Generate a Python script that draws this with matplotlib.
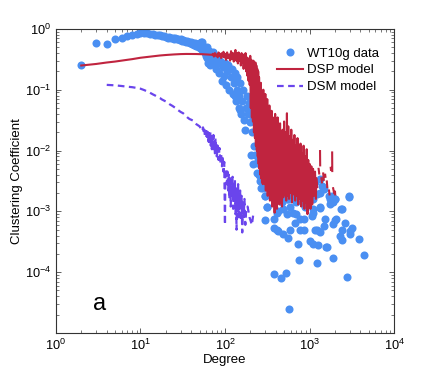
import numpy as np
import matplotlib
matplotlib.use('Agg')
import matplotlib.pyplot as plt
from matplotlib.ticker import LogLocator, NullFormatter

plt.rcParams['font.family'] = ['Liberation Sans', 'DejaVu Sans']
plt.rcParams['mathtext.default'] = 'regular'

# WT10g data (degree, clustering coefficient)
wt_deg = [2, 3, 4, 5, 6, 7, 8, 9, 10, 11, 12, 13, 14, 15, 16, 17, 18, 19, 20,
          21, 22, 23, 24, 25, 26, 27, 28, 29, 30, 31, 32, 33, 34, 35, 36, 37, 38,
          39, 40, 41, 42, 43, 44, 45, 46, 47, 48, 49, 50, 51, 52, 53, 54, 55, 56,
          57, 58, 59, 60, 61, 62, 63, 64, 65, 66, 67, 68, 69, 70,
          72, 74, 76, 78, 80, 83, 86, 88, 91, 94, 97, 100, 103, 106, 110, 113,
          117, 120, 123, 127, 130, 132, 134, 137, 140, 145, 148, 150, 152, 156,
          160, 165, 168, 173, 176, 180, 185, 190, 196, 200, 205, 208, 212, 218,
          225, 230, 237, 240, 245, 250, 256, 262, 270, 280, 290, 300, 300, 310,
          340, 375, 390, 410, 425, 470, 490, 540, 540, 560, 590, 640, 670, 700,
          735, 770, 850, 850, 930, 1060, 1100, 1100, 1230, 1230, 1260, 1330, 1330,
          1470, 1470, 1600, 1750, 1750, 1840, 1990, 1990, 2070, 2420, 2420, 2650,
          2900, 3000, 3160, 3860, 4400,
          375, 455, 520, 567, 760, 1240, 1880, 2770, 375, 425, 490, 560,
          1900, 2350, 1990, 1700, 1330, 1400, 1160, 1330, 1100, 1530, 770, 640,
          490, 540, 700, 890, 1100, 960, 850, 1160, 1330, 590, 410, 310, 300,
          280, 260, 240, 215, 237, 260, 280, 310, 375, 450, 2300, 2400, 3000,
          2900, 1900, 1000, 1570]
wt_cc = [0.256, 0.58, 0.56, 0.68, 0.72, 0.77, 0.80, 0.82, 0.84, 0.85, 0.84, 0.83,
         0.82, 0.80, 0.79, 0.78, 0.76, 0.75, 0.74, 0.72, 0.73, 0.70, 0.71, 0.69,
         0.70, 0.67, 0.68, 0.66, 0.67, 0.64, 0.66, 0.63, 0.64, 0.61, 0.63, 0.60,
         0.62, 0.58, 0.60, 0.57, 0.59, 0.55, 0.58, 0.53, 0.57, 0.52, 0.56, 0.50,
         0.58, 0.48, 0.62, 0.60, 0.45, 0.52, 0.43, 0.50, 0.40, 0.47, 0.36, 0.51,
         0.33, 0.27, 0.44, 0.30, 0.25, 0.42, 0.31, 0.37, 0.28,
         0.42, 0.30, 0.36, 0.22, 0.33, 0.27, 0.19, 0.30, 0.14, 0.24, 0.17, 0.28,
         0.12, 0.20, 0.25, 0.10, 0.16, 0.22, 0.085, 0.13, 0.19, 0.078, 0.064, 0.10,
         0.16, 0.05, 0.08, 0.047, 0.13, 0.04, 0.065, 0.10, 0.032, 0.022, 0.05,
         0.08, 0.04, 0.06, 0.03, 0.045, 0.0086, 0.02, 0.033, 0.012, 0.0086, 0.02,
         0.012, 0.0063, 0.0067, 0.004, 0.014, 0.006, 0.0024, 0.0049, 0.0035,
         0.0018, 0.00071, 0.0012, 0.0034, 0.00074, 0.0026, 0.0005, 0.001, 0.0014,
         0.0023, 0.0018, 0.00089, 0.0016, 0.0012, 0.0018, 0.00065, 0.00089,
         0.00029, 0.0005, 0.00074, 0.0015, 0.0023, 0.00085, 0.0011, 0.00029,
         0.0019, 0.0005, 0.00028, 0.0034, 0.00115, 0.0023, 0.00057, 0.00026,
         0.0016, 0.0013, 0.0018, 0.0016, 0.00071, 0.00074, 0.0011, 0.00034,
         0.00065, 0.0018, 0.00042, 0.00053, 0.00035, 0.00019,
         9.5e-5, 7.9e-5, 9.7e-5, 2.5e-5, 0.00016, 0.00014, 0.00017, 8.2e-5,
         0.00053, 0.00047, 0.00042, 0.00037,
         0.00063, 0.0011, 0.0016, 0.0018, 0.002, 0.0026, 0.003, 0.0012, 0.00095,
         0.00074, 0.00074, 0.00095, 0.0011, 0.0016, 0.0014, 0.0012, 0.0016,
         0.002, 0.0005, 0.0005, 0.00045, 0.0005, 0.00095, 0.0012, 0.0018,
         0.0024, 0.0031, 0.0043, 0.0059, 0.012, 0.007, 0.0055, 0.0038, 0.0026,
         0.0018, 0.00039, 0.0005, 0.00048, 0.0017, 0.0014, 0.00033, 0.00026]

# DSP model (NaN breaks the line between sparse high-degree points)
dsp_deg = [2, 3, 4, 5, 6, 7, 8, 10, 12, 14, 17, 20, 25, 30, 35, 40, 45, 50, 55,
           60, 65, 70, 72, 74, 76, 78, 80, 82, 84, 86, 88, 90, 92, 94, 96, 98,
           100, 103, 106, 109, 112, 115, 118, 121, 124, 127, 130, 133, 136, 139,
           142, 145, 148, 151, 154, 157, 160, 163, 166, 169, 172, 175, 178, 181,
           184, 187, 190, 193, 196, 199, 202, 205, 208, 211, 214, 217, 220, 223,
           226, 229, 232, 235, 238, 241, 244, 247, 250, 253, 256, 259, 262, 265,
           268, 271, 274, 277, 280, 284, 288, 292, 296, 300, 304, 308, 312, 316,
           320, 325, 330, 335, 340, 345, 350, 356, 362, 368, 374, 380, 386, 392,
           398, 405, 412, 419, 426, 433, 440, 448, 456, 464, 472, 480, 490, 500,
           510, 520, 530, 540, 550, 560, 572, 584, 596, 608, 620, 634, 648, 662,
           676, 690, 705, 720, 735, 750, 766, 782, 798, 815, 832, 850, 868, 886,
           905, 925, 945, 965, 985, 1005, 1025, 1050, 1075, 1100, 1130, 1160,
           1190, 1200, 1230, 1230, 1280, 1300, 1300, 1330, 1335, 1335, 1380, 1400,
           1400, 1450, 1470, 1470, 1530, 1540, 1540, 1600, 1620, 1620, 1700, 1720,
           1720, 1780, 1790, 1790, 1850, 1855, 1855, 1900, 1950, 1950, 2000, 2010]
dsp_cc = [0.25, 0.265, 0.28, 0.29, 0.30, 0.31, 0.318, 0.335, 0.345, 0.355, 0.365,
          0.372, 0.38, 0.385, 0.387, 0.387, 0.386, 0.385, 0.383, 0.38, 0.378,
          0.375, 0.39, 0.35, 0.40, 0.36, 0.38, 0.34, 0.41, 0.36, 0.39, 0.33, 0.40,
          0.35, 0.42, 0.34, 0.39, 0.31, 0.41, 0.33, 0.38, 0.30, 0.43, 0.32, 0.40,
          0.29, 0.38, 0.45, 0.30, 0.40, 0.27, 0.41, 0.30, 0.36, 0.25, 0.40, 0.28,
          0.38, 0.22, 0.36, 0.24, 0.40, 0.20, 0.34, 0.17, 0.33, 0.14, 0.30, 0.12,
          0.36, 0.05, 0.31, 0.035, 0.28, 0.03, 0.30, 0.02, 0.27, 0.016, 0.28,
          0.012, 0.25, 0.01, 0.22, 0.008, 0.20, 0.006, 0.16, 0.005, 0.12, 0.004,
          0.13, 0.0035, 0.09, 0.003, 0.08, 0.0028, 0.10, 0.0035, 0.07, 0.0028,
          0.085, 0.0022, 0.06, 0.003, 0.07, 0.0018, 0.05, 0.0025, 0.055, 0.0015,
          0.04, 0.002, 0.045, 0.0012, 0.035, 0.0016, 0.03, 0.00095, 0.04, 0.0014,
          0.025, 0.0011, 0.035, 0.0018, 0.02, 0.0013, 0.028, 0.0016, 0.018,
          0.0012, 0.022, 0.0017, 0.03, 0.0019, 0.02, 0.0015, 0.041, 0.0018,
          0.025, 0.0016, 0.017, 0.002, 0.022, 0.0014, 0.015, 0.0019, 0.018,
          0.0015, 0.012, 0.0018, 0.016, 0.0013, 0.011, 0.0016, 0.013, 0.0012,
          0.009, 0.0015, 0.012, 0.0011, 0.008, 0.0014, 0.0105, 0.0009, 0.007,
          0.0012, 0.006, 0.0011, 0.0055, 0.0013, 0.005, 0.0018, 0.0045, 0.0016,
          0.0035, 0.0025, np.nan, 0.005, 0.0042, np.nan, 0.0098, 0.0057, np.nan,
          0.0035, 0.003, np.nan, 0.0042, 0.0033, np.nan, 0.004, 0.0037, np.nan,
          0.0031, 0.0025, np.nan, 0.0022, 0.0019, np.nan, 0.0052, 0.0048, np.nan,
          0.0093, 0.0046, np.nan, 0.0024, 0.002, np.nan, 0.0021, 0.0019]

# DSM model
dsm_deg = [4, 5, 6, 7, 8, 9, 10, 11, 12, 13, 14, 15, 16, 17, 18, 20, 22, 24, 26,
           28, 30, 32, 34, 36, 38, 40, 42, 44, 46, 48, 50, 52, 54, 55, 56, 57,
           58, 59, 60, 61, 62, 63, 64, 65, 66, 67, 68, 69, 70, 71, 72, 73, 74,
           75, 76, 77, 78, 79, 80, 82, 84, 86, 88, 90, 92, 94, 96, 98, 100, 101,
           103, 105, 107, 109, 111, 113, 115, 117, 119, 121, 123, 125, 127, 129,
           131, 133, 135, 137, 139, 141, 143, 145, 147, 149, 151, 154, 157, 160,
           163, 166, 170, 174, 178, 185, 195, 208, 215]
dsm_cc = [0.12, 0.118, 0.115, 0.112, 0.11, 0.107, 0.104, 0.099, 0.094, 0.089,
          0.084, 0.08, 0.076, 0.073, 0.069, 0.064, 0.058, 0.054, 0.05, 0.046,
          0.043, 0.041, 0.038, 0.035, 0.033, 0.032, 0.031, 0.029, 0.027, 0.026,
          0.025, 0.023, 0.021, 0.024, 0.019, 0.022, 0.017, 0.021, 0.016, 0.023,
          0.015, 0.02, 0.014, 0.019, 0.013, 0.02, 0.012, 0.017, 0.0105, 0.016,
          0.011, 0.018, 0.0098, 0.014, 0.009, 0.016, 0.0095, 0.013, 0.008, 0.012,
          0.007, 0.011, 0.006, 0.009, 0.0055, 0.008, 0.0045, 0.0065, 0.0006,
          0.0042, 0.005, 0.0028, 0.0045, 0.0022, 0.004, 0.0016, 0.0035, 0.0012,
          0.0032, 0.0018, 0.0037, 0.0011, 0.0028, 0.0015, 0.0033, 0.0009, 0.0024,
          0.0005, 0.0022, 0.0012, 0.0028, 0.0008, 0.0019, 0.0011, 0.0022, 0.0007,
          0.0018, 0.00045, 0.0014, 0.0008, 0.0016, 0.0006, 0.0011, 0.0012,
          0.0008, 0.0006, 0.00085]

fig = plt.figure(figsize=(4.36, 3.75), dpi=100)
ax = fig.add_axes([0.128, 0.112, 0.776, 0.811])

ax.plot(wt_deg, wt_cc, 'o', color='#4A8FF2', markersize=5.8, markeredgewidth=0,
        label='WT10g data')
ax.plot(dsp_deg, dsp_cc, '-', color='#C0243F', linewidth=1.5, label='DSP model')
ax.plot(dsm_deg, dsm_cc, '--', color='#6A45EC', linewidth=1.6, dashes=(3, 2),
        label='DSM model')

ax.set_xscale('log')
ax.set_yscale('log')
ax.set_xlim(1, 1e4)
ax.set_ylim(1e-5, 1)
ax.set_yticks([1e-4, 1e-3, 1e-2, 1e-1, 1])
ax.yaxis.set_minor_locator(LogLocator(base=10, subs=np.arange(2, 10)))
ax.xaxis.set_minor_locator(LogLocator(base=10, subs=np.arange(2, 10)))
ax.yaxis.set_minor_formatter(NullFormatter())
ax.xaxis.set_minor_formatter(NullFormatter())
ax.tick_params(which='both', direction='in', top=True, right=True,
               labelsize=9.2, color='#444444')
ax.tick_params(which='major', length=3.5, width=0.6)
ax.tick_params(which='minor', length=2, width=0.5)
for s in ax.spines.values():
    s.set_color('#333333')
    s.set_linewidth(0.8)

ax.set_xlabel('Degree', fontsize=9.5, labelpad=1)
ax.set_ylabel('Clustering Coefficient', fontsize=9.5, labelpad=1)
ax.text(3.3, 3e-5, 'a', fontsize=17, ha='center', va='center')

ax.legend(loc='upper right', bbox_to_anchor=(1.01, 1.0), frameon=False,
          fontsize=9.5, handlelength=2.0, handletextpad=0.3,
          labelspacing=0.35, borderaxespad=1.0, numpoints=1)

fig.savefig('out.png', dpi=100)
